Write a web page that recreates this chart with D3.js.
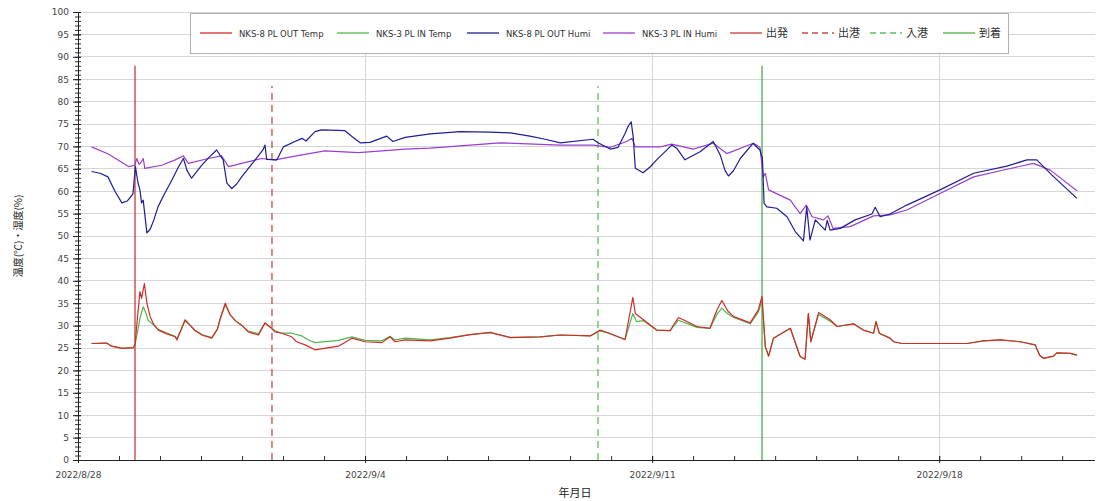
<!DOCTYPE html>
<html><head><meta charset="utf-8">
<script src="https://cdn.jsdelivr.net/npm/d3@7"></script>
<style>
body{margin:0;background:#fff;}
svg{display:block;font-family:"DejaVu Sans",Verdana,sans-serif;}
</style>
</head><body>
<svg id="c" width="1097" height="501"></svg>
<script>
// ---------- DATA ----------
const baseDate = new Date(2022, 7, 28);           // 2022/8/28 00:00
const domainEndDays = 24.8;                         // right edge of plot (days after base)
const yTicks = d3.range(0, 101, 5);
const yMinorTicks = d3.range(0, 101, 1);
const xTickLabels = ["2022/8/28", "2022/9/4", "2022/9/11", "2022/9/18"];
const seriesNames = ["NKS-8 PL OUT Temp", "NKS-3 PL IN Temp", "NKS-8 PL OUT Humi", "NKS-3 PL IN Humi"];
const eventNames = ["出発", "出港", "入港", "到着"];
const eventDays = [1.39, 4.73, 12.68, 16.68];
const eventTops = [88, 83.5, 83.5, 88];

// [days after 2022/8/28, value]
const outTemp = [[0.33,26],[0.70,26.1],[0.82,25.4],[1.07,24.9],[1.35,25.1],[1.39,25.7],[1.43,29.8],[1.51,37.6],[1.55,36.1],[1.62,39.4],[1.68,35],[1.76,32],[1.85,30.2],[1.96,29],[2.15,28.2],[2.37,27.5],[2.41,26.8],[2.53,29.4],[2.61,31.3],[2.73,30.1],[2.85,28.9],[3.02,27.9],[3.26,27.2],[3.40,29.2],[3.46,31.3],[3.59,35],[3.71,32.4],[3.85,31.0],[3.99,30.1],[4.15,28.6],[4.40,27.9],[4.56,30.6],[4.72,29.4],[4.80,28.6],[4.97,28.3],[5.21,27.5],[5.33,26.4],[5.54,25.7],[5.78,24.6],[6.35,25.4],[6.68,27.2],[7.0,26.4],[7.41,26.2],[7.61,27.5],[7.73,26.4],[7.98,26.8],[8.59,26.6],[9.07,27.2],[9.56,28.0],[10.05,28.5],[10.54,27.3],[11.27,27.5],[11.76,27.9],[12.49,27.7],[12.73,29],[12.93,28.4],[13.34,26.9],[13.53,36.3],[13.59,32.7],[13.79,31.3],[14.11,29],[14.44,28.9],[14.64,31.8],[14.85,30.9],[15.09,29.8],[15.41,29.4],[15.58,33.5],[15.70,35.6],[15.85,33.2],[15.99,32],[16.39,30.6],[16.59,33.5],[16.68,36.5],[16.76,25.3],[16.84,23.2],[16.96,27.2],[17.37,29.4],[17.61,23.1],[17.73,22.5],[17.81,32.7],[17.87,26.4],[18.06,32.9],[18.34,31.3],[18.51,29.8],[18.91,30.4],[19.15,29],[19.40,28.3],[19.46,30.9],[19.54,28.3],[19.80,27.2],[19.89,26.4],[20.09,26.0],[21.68,26.0],[22.08,26.6],[22.49,26.8],[22.98,26.4],[23.34,25.7],[23.45,23.4],[23.54,22.7],[23.79,23.2],[23.87,23.9],[24.20,23.8],[24.36,23.4]];

const inTemp = [[0.33,26],[0.70,26.1],[0.82,25.4],[1.07,24.9],[1.35,25.1],[1.39,25.7],[1.45,28.5],[1.51,31.6],[1.59,34.2],[1.65,33],[1.71,31.2],[1.80,30.5],[1.96,29.2],[2.15,28.4],[2.37,27.6],[2.41,27],[2.53,29.4],[2.61,31.0],[2.73,30.1],[2.85,29.0],[3.02,28.0],[3.26,27.3],[3.40,29.2],[3.46,31.3],[3.59,34.6],[3.71,32.4],[3.85,31.0],[3.99,30.1],[4.15,28.8],[4.40,28.2],[4.56,30.6],[4.72,29.4],[4.80,28.9],[4.97,28.3],[5.21,28.3],[5.46,27.7],[5.62,26.8],[5.78,26.2],[6.35,26.7],[6.68,27.5],[7.0,26.7],[7.41,26.6],[7.61,27.6],[7.73,26.8],[7.98,27.2],[8.59,26.8],[9.07,27.3],[9.56,28.0],[10.05,28.4],[10.54,27.4],[11.27,27.5],[11.76,27.9],[12.49,27.7],[12.73,28.8],[12.93,28.3],[13.34,26.9],[13.53,32.7],[13.62,30.9],[13.79,31.1],[14.11,29],[14.44,28.9],[14.64,31.2],[14.85,30.5],[15.09,29.6],[15.41,29.4],[15.58,32.5],[15.70,33.9],[15.85,32.6],[15.99,31.8],[16.39,30.4],[16.59,33.0],[16.68,35.5],[16.76,25.3],[16.84,23.2],[16.96,27.2],[17.37,29.4],[17.61,23.1],[17.73,22.5],[17.81,32.7],[17.87,26.4],[18.06,32.5],[18.34,31.0],[18.51,29.8],[18.91,30.4],[19.15,29],[19.40,28.3],[19.46,30.9],[19.54,28.3],[19.80,27.2],[19.89,26.4],[20.09,26.0],[21.68,26.0],[22.08,26.6],[22.49,26.8],[22.98,26.4],[23.34,25.7],[23.45,23.4],[23.54,22.7],[23.79,23.2],[23.87,23.9],[24.20,23.8],[24.36,23.4]];

const outHumi = [[0.33,64.4],[0.54,64],[0.73,63.2],[0.90,60.0],[1.07,57.4],[1.20,57.8],[1.34,59.4],[1.40,65.5],[1.46,62],[1.51,60.3],[1.55,57.4],[1.59,58],[1.68,50.7],[1.76,51.5],[1.85,53.6],[1.95,56.5],[2.12,59.6],[2.29,62.5],[2.45,65.4],[2.57,67.3],[2.66,64.6],[2.77,62.9],[3.02,65.8],[3.20,67.6],[3.38,69.2],[3.54,67],[3.63,61.8],[3.75,60.6],[3.87,61.6],[3.99,63.2],[4.32,67],[4.51,69.2],[4.56,70.3],[4.60,67.1],[4.85,67],[5.01,69.9],[5.29,71.1],[5.46,71.8],[5.56,71.2],[5.78,73.3],[5.94,73.7],[6.51,73.5],[6.68,72.2],[6.88,70.8],[7.12,70.9],[7.53,72.3],[7.68,71.1],[7.98,72.0],[8.59,72.8],[9.32,73.3],[10.05,73.2],[10.54,73],[11.02,72.3],[11.39,71.6],[11.76,70.8],[12.56,71.6],[12.68,70.8],[12.98,69.4],[13.17,69.8],[13.34,72.9],[13.41,74.4],[13.49,75.5],[13.54,72],[13.59,65.1],[13.78,64.1],[13.95,65.4],[14.11,67],[14.48,70.3],[14.60,69.6],[14.80,67],[15.17,68.8],[15.49,71.1],[15.66,68.1],[15.78,64.6],[15.86,63.4],[15.98,64.5],[16.15,67.3],[16.46,70.7],[16.63,69.2],[16.69,67.3],[16.73,57.3],[16.80,56.5],[17.04,56.2],[17.29,54.3],[17.49,51],[17.69,48.9],[17.77,56.5],[17.85,49.1],[17.98,53.6],[18.22,51.3],[18.27,53.5],[18.34,51.3],[18.59,51.7],[18.95,53.6],[19.36,54.9],[19.44,56.4],[19.56,54.3],[19.80,54.9],[20.21,56.9],[21.02,60.3],[21.84,64],[22.65,65.6],[23.14,67],[23.38,67],[23.75,63.6],[24.36,58.4]];

const inHumi = [[0.33,69.9],[0.74,68.3],[1.23,65.5],[1.39,65.8],[1.43,67.3],[1.49,66],[1.54,66.5],[1.59,67.3],[1.63,65.1],[2.04,65.8],[2.37,67],[2.57,67.9],[2.69,66.2],[3.18,67.3],[3.50,67.9],[3.67,65.5],[3.99,66.2],[4.48,67.3],[4.80,67],[5.46,68.1],[6.02,69],[6.84,68.6],[7.98,69.4],[8.59,69.6],[9.56,70.3],[10.29,70.8],[11.76,70.3],[12.56,70.3],[12.98,69.8],[13.38,71.1],[13.51,71.8],[13.59,69.9],[14.20,69.9],[14.48,70.5],[15.0,69.4],[15.49,70.7],[15.82,68.4],[16.47,70.7],[16.63,69.8],[16.71,63.2],[16.76,64],[16.84,60.3],[17.37,58],[17.61,55],[17.76,56.9],[17.90,54.3],[18.18,53.6],[18.29,54.5],[18.41,51.7],[18.83,52.1],[19.40,54.5],[19.80,54.7],[20.21,55.8],[21.02,59.5],[21.84,63.2],[22.65,64.9],[23.30,66.2],[23.71,64.7],[24.36,60.1]];

// ---------- LAYOUT / STYLE ----------
const L = 78, R = 1095, T = 12, B = 460;
const seriesColors = ["#d42a2a", "#4cb84c", "#1e1e96", "#9a3fd0"];
const eventColors = ["#c83a3a", "#d04848", "#5cc05c", "#44b044"];
const eventDash = [null, "7,5", "7,5", null];

const dayMs = 86400000;
const toDate = d => new Date(baseDate.getTime() + d * dayMs);
const parseLbl = d3.timeParse("%Y/%m/%d");

const svg = d3.select("#c");
const x = d3.scaleTime().domain([baseDate, toDate(domainEndDays)]).range([L, R]);
const y = d3.scaleLinear().domain([0, 100]).range([B, T]);

// grid
const grid = svg.append("g");
grid.selectAll("line.h").data(yTicks.filter(v => v > 0)).join("line")
  .attr("x1", L).attr("x2", R).attr("y1", d => y(d)).attr("y2", d => y(d))
  .attr("stroke", "#d6d6d6").attr("stroke-width", 1).attr("shape-rendering", "crispEdges");
grid.selectAll("line.v").data(xTickLabels.slice(1).map(parseLbl)).join("line")
  .attr("x1", d => x(d)).attr("x2", d => x(d)).attr("y1", T).attr("y2", B)
  .attr("stroke", "#d6d6d6").attr("stroke-width", 1).attr("shape-rendering", "crispEdges");

// event lines
svg.append("g").selectAll("line").data(eventDays).join("line")
  .attr("x1", d => x(toDate(d))).attr("x2", d => x(toDate(d)))
  .attr("y1", y(0)).attr("y2", (d, i) => y(eventTops[i]))
  .attr("stroke", (d, i) => eventColors[i]).attr("stroke-width", 1.3)
  .attr("stroke-dasharray", (d, i) => eventDash[i]);

// series
const line = d3.line().x(d => x(toDate(d[0]))).y(d => y(d[1]));
const allSeries = [outTemp, inTemp, outHumi, inHumi];
const drawOrder = [3, 2, 1, 0];
svg.append("g").selectAll("path").data(drawOrder).join("path")
  .attr("d", i => line(allSeries[i]))
  .attr("fill", "none").attr("stroke", i => seriesColors[i]).attr("stroke-width", 1.2)
  .attr("stroke-linejoin", "round");

// y axis minor ticks
svg.append("g").attr("transform", `translate(${L},0)`).selectAll("line").data(yMinorTicks).join("line")
  .attr("x1", -3).attr("x2", 3).attr("y1", d => y(d) + 0.5).attr("y2", d => y(d) + 0.5).attr("stroke", "#333");

const yAxis = d3.axisLeft(y).tickValues(yTicks).tickSize(5).tickPadding(4);
const ya = svg.append("g").attr("transform", `translate(${L},0)`).call(yAxis);
ya.select(".domain").attr("d", `M0.5,${T}V${B}`).attr("stroke", "#222");
ya.selectAll(".tick line").attr("x1", 3).attr("stroke", "#222");
ya.selectAll("text").attr("font-size", 9).attr("fill", "#444").attr("font-family", "DejaVu Sans, sans-serif");

// x axis
const xDays = d3.timeDay.range(baseDate, toDate(domainEndDays));
const xAxisMinor = d3.axisBottom(x).tickValues(xDays).tickSize(-4).tickFormat("");
const xm = svg.append("g").attr("transform", `translate(0,${B})`).call(xAxisMinor);
xm.select(".domain").remove();
xm.selectAll("line").attr("stroke", "#333");
const xAxis = d3.axisBottom(x).tickValues(xTickLabels.map(parseLbl))
  .tickFormat(d3.timeFormat("%Y/%-m/%-d")).tickSize(3).tickPadding(9);
const xa = svg.append("g").attr("transform", `translate(0,${B})`).call(xAxis);
xa.select(".domain").attr("d", `M${L},0.5H${R}`).attr("stroke", "#222");
xa.selectAll(".tick line").attr("y1", -4).attr("stroke", "#222");
xa.selectAll("text").attr("font-size", 9).attr("fill", "#444").attr("font-family", "DejaVu Sans, sans-serif");

// axis titles
svg.append("text").attr("x", 575).attr("y", 497).attr("text-anchor", "middle")
  .attr("font-size", 11).attr("fill", "#222").attr("font-family", "Noto Sans CJK JP, sans-serif").text("年月日");
svg.append("text").attr("transform", `translate(22,236) rotate(-90)`).attr("text-anchor", "middle")
  .attr("font-size", 10).attr("fill", "#222").attr("font-family", "Noto Sans CJK JP, sans-serif").text("温度(℃)・湿度(%)");

// legend
const lg = svg.append("g");
lg.append("rect").attr("x", 190.5).attr("y", 13.5).attr("width", 818).attr("height", 40)
  .attr("fill", "#fff").attr("stroke", "#b0b0b0");
const legendItems = seriesNames.map((n, i) => ({ name: n, color: seriesColors[i], dash: null, cjk: false }))
  .concat(eventNames.map((n, i) => ({ name: n, color: eventColors[i], dash: eventDash[i], cjk: true })));
const legendX = [200, 337, 467, 603, 730, 802, 870, 943];
const ly = 33;
legendItems.forEach((it, i) => {
  const gx = legendX[i];
  lg.append("line").attr("x1", gx).attr("x2", gx + 32).attr("y1", ly).attr("y2", ly)
    .attr("stroke", it.color).attr("stroke-width", 1.3).attr("stroke-dasharray", it.dash ? "6,4" : null);
  lg.append("text").attr("x", gx + (it.cjk ? 36 : 39)).attr("y", ly + 3.5)
    .attr("font-size", it.cjk ? 11 : 8.5).attr("fill", "#333")
    .attr("font-family", it.cjk ? "Noto Sans CJK JP, sans-serif" : "DejaVu Sans, sans-serif")
    .text(it.name);
});
</script>
</body></html>
